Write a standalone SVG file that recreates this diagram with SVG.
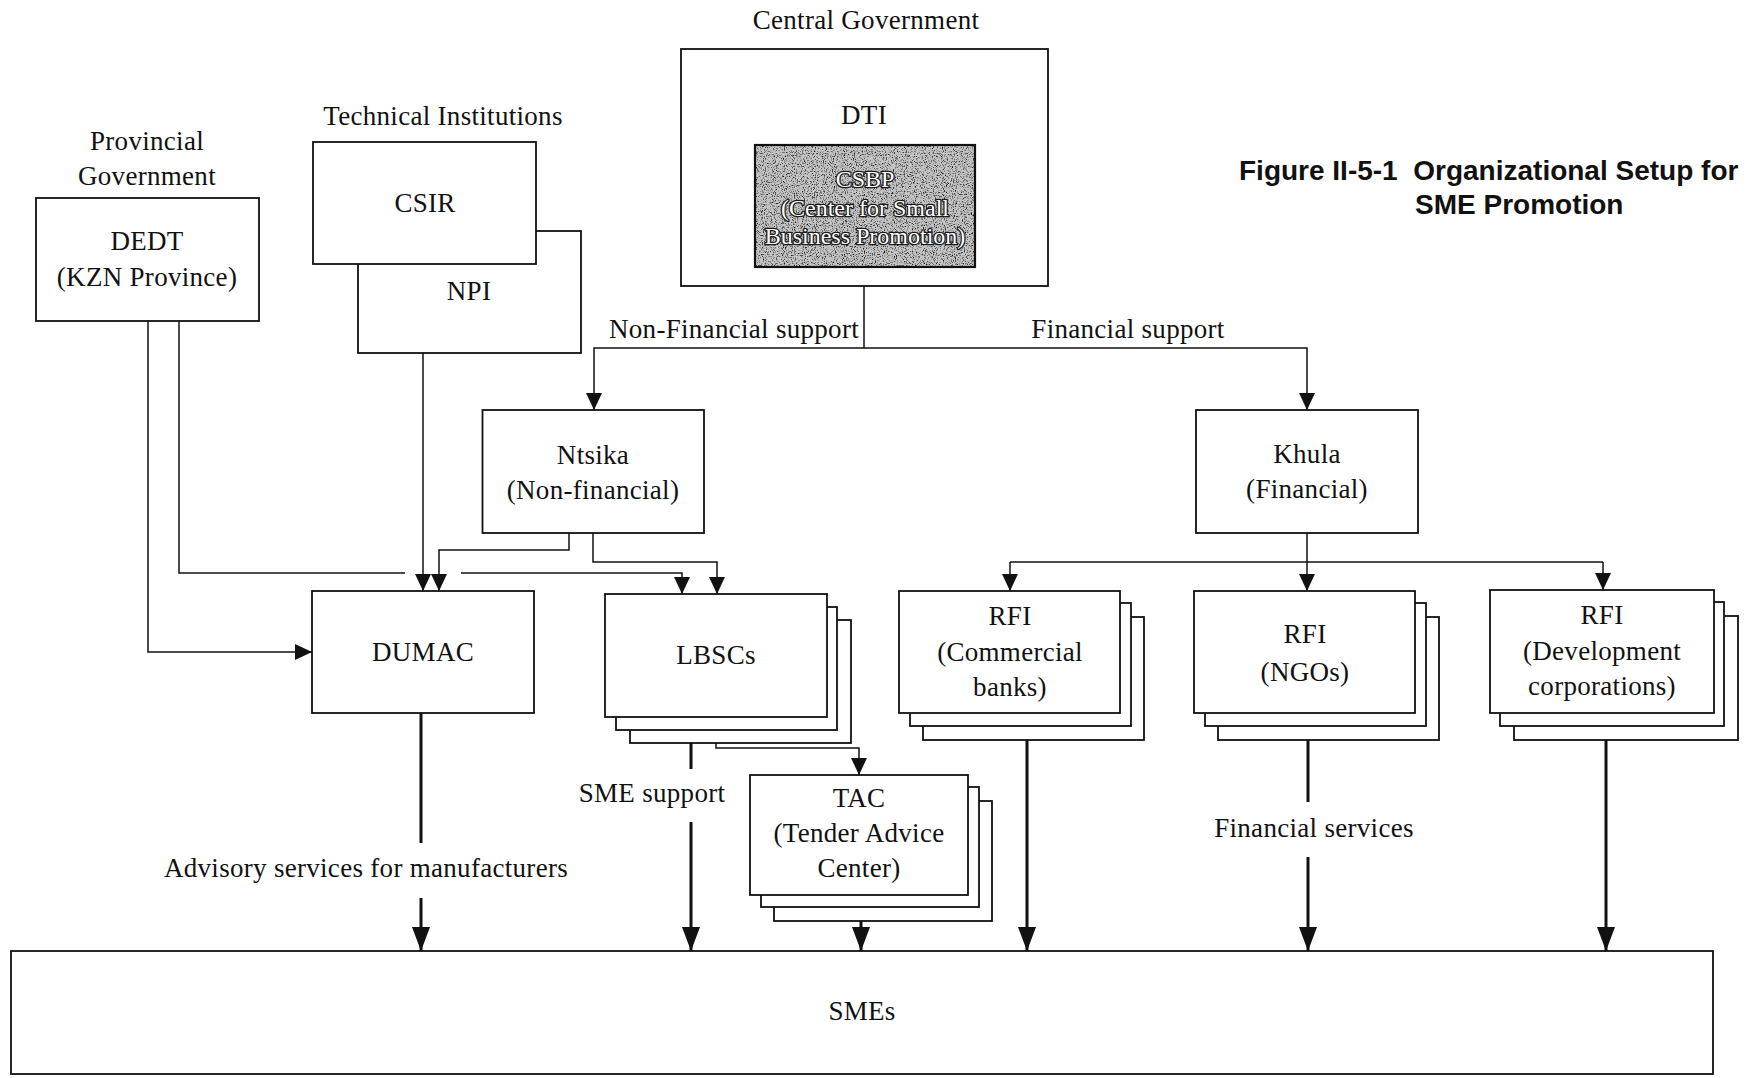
<svg xmlns="http://www.w3.org/2000/svg" width="1747" height="1078" viewBox="0 0 1747 1078">
<style>
text { font-family: "Liberation Serif", "Times New Roman", serif; font-size: 27px; letter-spacing: 0.3px; fill: #111; text-anchor: middle; }
.box { fill: #fff; stroke: #111; stroke-width: 1.8; }
.ln { fill: none; stroke: #111; stroke-width: 1.5; }
.tk { fill: none; stroke: #111; stroke-width: 3; }
.title { font-family: "Liberation Sans", Arial, sans-serif; font-weight: bold; font-size: 28px; letter-spacing: 0; text-anchor: start; }
.cs { fill: #fff; stroke: #1a1a1a; stroke-width: 2.6; stroke-linejoin: round; paint-order: stroke; font-size: 24px; letter-spacing: 0; }
</style>
<defs>
<marker id="arr" viewBox="0 0 17 16" refX="17" refY="8" markerWidth="17" markerHeight="16" orient="auto" markerUnits="userSpaceOnUse">
<path d="M0,0 L17,8 L0,16 z" fill="#111"/>
</marker>
<marker id="arrT" viewBox="0 0 24 18" refX="24" refY="9" markerWidth="24" markerHeight="18" orient="auto" markerUnits="userSpaceOnUse">
<path d="M0,0 L24,9 L0,18 z" fill="#111"/>
</marker>
<filter id="noise" x="0" y="0" width="100%" height="100%">
<feTurbulence type="fractalNoise" baseFrequency="0.9" numOctaves="2" seed="4" result="t"/>
<feColorMatrix in="t" type="matrix" values="0 0 0 0 0  0 0 0 0 0  0 0 0 0 0  0 0 0 -3 1.5"/>
<feComposite in2="SourceGraphic" operator="in"/>
</filter>
</defs>
<rect width="1747" height="1078" fill="#fff"/>

<g id="labels">
<text x="866" y="29">Central Government</text>
<text x="147" y="150">Provincial</text>
<text x="147" y="185">Government</text>
<text x="443" y="125">Technical Institutions</text>
<text class="title" x="1239" y="180" xml:space="preserve">Figure II-5-1  Organizational Setup for</text>
<text class="title" x="1415" y="214">SME Promotion</text>
</g>

<g id="connectors">
<path class="ln" d="M864,286 V348 H594 V410" marker-end="url(#arr)"/>
<path class="ln" d="M864,348 H1307 V410" marker-end="url(#arr)"/>
<path class="ln" d="M423,353 V591" marker-end="url(#arr)"/>
<path class="ln" d="M569,533 V550 H439 V591" marker-end="url(#arr)"/>
<path class="ln" d="M593,533 V562 H717 V594" marker-end="url(#arr)"/>
<path class="ln" d="M179,321 V573 H405"/>
<path class="ln" d="M461,573 H682 V594" marker-end="url(#arr)"/>
<path class="ln" d="M148,321 V652 H312" marker-end="url(#arr)"/>
<path class="ln" d="M1307,533 V562 M1010,562 H1603"/>
<path class="ln" d="M1010,562 V591" marker-end="url(#arr)"/>
<path class="ln" d="M1307,562 V591" marker-end="url(#arr)"/>
<path class="ln" d="M1603,562 V590" marker-end="url(#arr)"/>
<path class="ln" d="M716,743 V748 H859 V775" marker-end="url(#arr)"/>
<path class="tk" d="M421,713 V843"/>
<path class="tk" d="M421,898 V951" marker-end="url(#arrT)"/>
<path class="tk" d="M691,743 V769"/>
<path class="tk" d="M691,822 V951" marker-end="url(#arrT)"/>
<path class="tk" d="M861,921 V951" marker-end="url(#arrT)"/>
<path class="tk" d="M1027,740 V951" marker-end="url(#arrT)"/>
<path class="tk" d="M1308,740 V802"/>
<path class="tk" d="M1308,857 V951" marker-end="url(#arrT)"/>
<path class="tk" d="M1606,740 V951" marker-end="url(#arrT)"/>
<text x="734" y="338">Non-Financial support</text>
<text x="1128" y="338">Financial support</text>
<text x="652" y="802">SME support</text>
<text x="366" y="877">Advisory services for manufacturers</text>
<text x="1314" y="837">Financial services</text>
</g>

<g id="dedt">
<rect class="box" x="36" y="198" width="223" height="123"/>
<text x="147" y="250">DEDT</text>
<text x="147" y="286">(KZN Province)</text>
</g>
<g id="npi">
<rect class="box" x="358" y="231" width="223" height="122"/>
<text x="469" y="300">NPI</text>
</g>
<g id="csir">
<rect class="box" x="313" y="142" width="223" height="122"/>
<text x="425" y="212">CSIR</text>
</g>
<g id="dti">
<rect class="box" x="681" y="49" width="367" height="237"/>
<text x="864" y="124">DTI</text>
</g>
<g id="csbp">
<rect x="755" y="145" width="220" height="122" fill="#c4c4c4"/>
<rect x="755" y="145" width="220" height="122" fill="#000" filter="url(#noise)"/>
<rect x="755" y="145" width="220" height="122" fill="none" stroke="#111" stroke-width="2.2"/>
<text class="cs" x="865" y="187">CSBP</text>
<text class="cs" x="865" y="216">(Center for Small</text>
<text class="cs" x="865" y="244">Business Promotion)</text>
</g>
<g id="ntsika">
<rect class="box" x="482.5" y="410" width="221.5" height="123"/>
<text x="593" y="464">Ntsika</text>
<text x="593" y="499">(Non-financial)</text>
</g>
<g id="khula">
<rect class="box" x="1196" y="410" width="222" height="123"/>
<text x="1307" y="463">Khula</text>
<text x="1307" y="498">(Financial)</text>
</g>
<g id="dumac">
<rect class="box" x="312" y="591" width="222" height="122"/>
<text x="423" y="661">DUMAC</text>
</g>
<g id="lbscs">
<rect class="box" x="630" y="620" width="221" height="123"/>
<rect class="box" x="616" y="607" width="221" height="123"/>
<rect class="box" x="605" y="594" width="222" height="123"/>
<text x="716" y="664">LBSCs</text>
</g>
<g id="rfi-commercial">
<rect class="box" x="923" y="617" width="221" height="123"/>
<rect class="box" x="910" y="603" width="221" height="123"/>
<rect class="box" x="899" y="591" width="221" height="122"/>
<text x="1010" y="625">RFI</text>
<text x="1010" y="661">(Commercial</text>
<text x="1010" y="696">banks)</text>
</g>
<g id="rfi-ngos">
<rect class="box" x="1218" y="617" width="221" height="123"/>
<rect class="box" x="1205" y="603" width="221" height="123"/>
<rect class="box" x="1194" y="591" width="221" height="122"/>
<text x="1305" y="643">RFI</text>
<text x="1305" y="681">(NGOs)</text>
</g>
<g id="rfi-dev">
<rect class="box" x="1514" y="616" width="224" height="124"/>
<rect class="box" x="1500" y="602" width="224" height="124"/>
<rect class="box" x="1490" y="590" width="224" height="123"/>
<text x="1602" y="624">RFI</text>
<text x="1602" y="660">(Development</text>
<text x="1602" y="695">corporations)</text>
</g>
<g id="tac">
<rect class="box" x="774" y="801" width="218" height="120"/>
<rect class="box" x="761" y="787" width="218" height="120"/>
<rect class="box" x="750" y="775" width="218" height="120"/>
<text x="859" y="807">TAC</text>
<text x="859" y="842">(Tender Advice</text>
<text x="859" y="877">Center)</text>
</g>
<g id="smes">
<rect class="box" x="11" y="951" width="1702" height="123"/>
<text x="862" y="1020">SMEs</text>
</g>
</svg>
